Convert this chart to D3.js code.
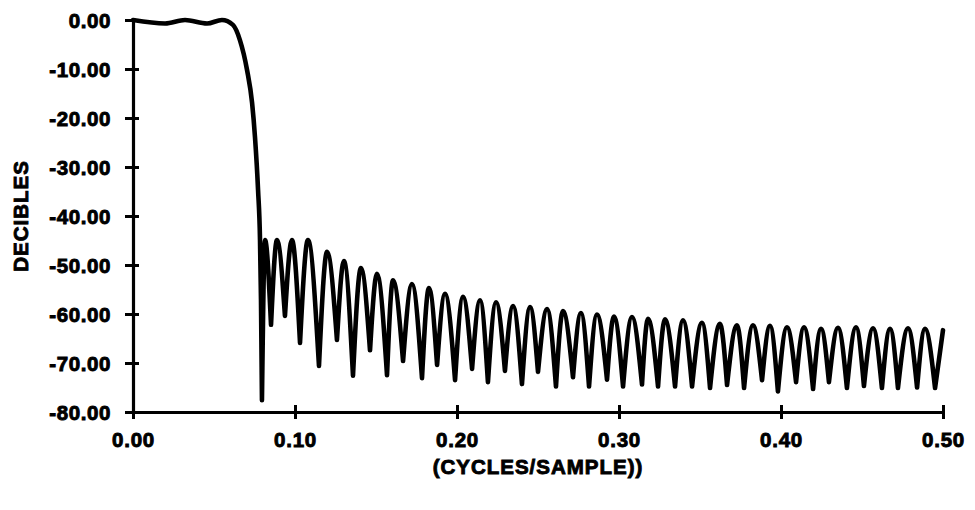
<!DOCTYPE html>
<html>
<head>
<meta charset="utf-8">
<script src="https://cdn.jsdelivr.net/npm/d3@7"></script>
<style>
  body { margin: 0; background: #fff; }
  text {
    font-family: "Liberation Sans", Arial, sans-serif;
    font-weight: bold;
    fill: #000;
    stroke: #000;
    stroke-width: 0.9px;
  }
</style>
</head>
<body>
<svg id="chart" width="975" height="510"></svg>
<script>
// ===== DADOS =====

// passband and transition band (cycles/sample, dB)
const passFreq = [0.0, 0.0198, 0.0321, 0.0457, 0.0549, 0.0617, 0.066, 0.0704, 0.0735, 0.0753, 0.0772, 0.0784, 0.079, 0.0796];
const passDb = [0, -0.7, 0, -0.7, 0, -1.0, -4.1, -10.2, -16.9, -23.9, -34.7, -44.9, -57.0, -77.6];

// stopband nulls (first one is the end of the transition band)
const nullFreq = [
  0.0796, 0.0852, 0.0938, 0.1031, 0.1148, 0.1259, 0.1358, 0.1463, 0.1568, 0.1667,
  0.1784, 0.1877, 0.1988, 0.2093, 0.2191, 0.2296, 0.2401, 0.25, 0.2611, 0.2716,
  0.2815, 0.2926, 0.3025, 0.3142, 0.3241, 0.3346, 0.3451, 0.3562, 0.3667, 0.3772,
  0.3883, 0.3981, 0.4093, 0.4198, 0.4296, 0.4407, 0.4512, 0.4623, 0.4722, 0.484,
  0.4951
];
const nullDb = [
  -77.6, -62.2, -60.4, -65.9, -70.6, -65.3, -72.6, -67.4, -72.5, -69.6,
  -73.1, -70.4, -73.5, -71.2, -73.9, -71.6, -74.3, -71.8, -74.8, -72.9,
  -74.8, -73.4, -74.8, -74.4, -74.8, -74.8, -74.8, -75.1, -74.5, -75.1,
  -73.5, -75.8, -73.9, -75.3, -73.9, -75.1, -74.7, -75.1, -75.1, -75.0,
  -75.1
];

// stopband lobe peaks (last one is the end of the curve at 0.5)
const peakFreq = [
  0.0815, 0.0889, 0.0981, 0.108, 0.1198, 0.1302, 0.1407, 0.1506, 0.1605, 0.1722,
  0.1827, 0.1926, 0.2037, 0.2142, 0.2241, 0.2346, 0.2451, 0.2556, 0.2654, 0.2765,
  0.2864, 0.2969, 0.308, 0.3179, 0.3284, 0.3395, 0.3512, 0.3623, 0.3728, 0.3827,
  0.3932, 0.4037, 0.4142, 0.4247, 0.4352, 0.4463, 0.4568, 0.4673, 0.4784, 0.4889,
  0.5
];
const peakDb = [
  -44.9, -44.9, -44.9, -44.9, -47.3, -49.2, -50.6, -51.8, -53.1, -53.9,
  -54.7, -55.9, -56.5, -57.2, -57.6, -58.4, -58.6, -59.0, -59.4, -59.8,
  -60.1, -60.5, -60.6, -61.0, -61.1, -61.3, -61.8, -62.0, -62.3, -62.3,
  -62.4, -62.7, -62.7, -63.0, -62.8, -62.7, -62.9, -63.0, -62.9, -63.0,
  -63.3
];

const xTickValues = [0, 0.1, 0.2, 0.3, 0.4, 0.5];
const xTickLabels = ["0.00", "0.10", "0.20", "0.30", "0.40", "0.50"];
const yTickValues = [0, -10, -20, -30, -40, -50, -60, -70, -80];
const yTickLabels = ["0.00", "-10.00", "-20.00", "-30.00", "-40.00", "-50.00", "-60.00", "-70.00", "-80.00"];

// ===== ESCALAS =====

const svg = d3.select("#chart");

const x = d3.scaleLinear().domain([0, 0.5]).range([133, 943]);
const y = d3.scaleLinear().domain([-80, 0]).range([412, 20]);

// ===== EIXOS =====

const yAxis = svg
  .append("g")
  .attr("transform", `translate(${x(0)},0)`)
  .call(
    d3
      .axisLeft(y)
      .tickValues(yTickValues)
      .tickFormat((d, i) => yTickLabels[i])
      .tickSizeOuter(0)
  );

yAxis.select(".domain").attr("stroke", "#000").attr("stroke-width", 3.2);
yAxis
  .selectAll(".tick line")
  .attr("x1", 6)
  .attr("x2", -8)
  .attr("stroke", "#000")
  .attr("stroke-width", 3);
yAxis
  .selectAll(".tick text")
  .attr("x", -22)
  .attr("dy", "0.36em")
  .style("font-size", "20.5px")
  .style("letter-spacing", "0.6px");

const xAxis = svg
  .append("g")
  .attr("transform", `translate(0,${y(-80)})`)
  .call(
    d3
      .axisBottom(x)
      .tickValues(xTickValues)
      .tickFormat((d, i) => xTickLabels[i])
      .tickSizeOuter(0)
  );

xAxis.select(".domain").attr("stroke", "#000").attr("stroke-width", 3.2);
xAxis
  .selectAll(".tick line")
  .attr("y1", -7)
  .attr("y2", 7)
  .attr("stroke", "#000")
  .attr("stroke-width", 3);
xAxis
  .selectAll(".tick text")
  .attr("y", 28)
  .attr("dy", "0.36em")
  .style("font-size", "20.5px")
  .style("letter-spacing", "0.8px");

// titulos
svg
  .append("text")
  .attr("x", (x(0) + x(0.5)) / 2)
  .attr("y", 467)
  .attr("dy", "0.36em")
  .attr("text-anchor", "middle")
  .style("font-size", "20.5px")
  .style("letter-spacing", "1px")
  .text("(CYCLES/SAMPLE))");

svg
  .append("text")
  .attr("transform", `translate(21,${(y(0) + y(-80)) / 2}) rotate(-90)`)
  .attr("dy", "0.36em")
  .attr("text-anchor", "middle")
  .style("font-size", "20.5px")
  .style("letter-spacing", "1px")
  .text("DECIBLES");

// ===== CURVA =====

const line = d3
  .line()
  .x((d) => x(d[0]))
  .y((d) => y(d[1]))
  .curve(d3.curveMonotoneX);

let pathD = line(passFreq.map((f, i) => [f, passDb[i]]));

// cada lobulo: nulo -> pico -> nulo
peakFreq.forEach((f, i) => {
  const pts = [[nullFreq[i], nullDb[i]], [f, peakDb[i]]];
  if (i + 1 < nullFreq.length) pts.push([nullFreq[i + 1], nullDb[i + 1]]);
  pathD += line(pts);
});

svg
  .append("path")
  .attr("d", pathD)
  .attr("fill", "none")
  .attr("stroke", "#000")
  .attr("stroke-width", 4.6)
  .attr("stroke-linejoin", "round")
  .attr("stroke-linecap", "round");
</script>
</body>
</html>
